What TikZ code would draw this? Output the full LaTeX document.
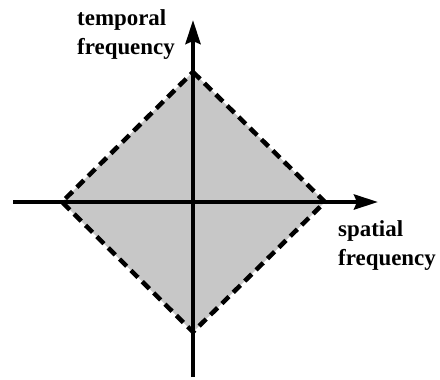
\documentclass[tikz,border=0pt]{standalone}
\usepackage{fontspec}
\setmainfont{Liberation Serif}
\usepackage{tikz}
\usetikzlibrary{positioning, arrows.meta}
\definecolor{stipple}{gray}{0.78}

\begin{document}
\begin{tikzpicture}[x=1bp, y=-1bp,
    axis/.style={line width=4bp, -{Stealth[length=24bp, width=15bp, inset=3bp]}},
    border/.style={line width=4.5bp, dash pattern=on 10bp off 6bp, fill=stipple},
    axislabel/.style={font=\bfseries\fontsize{23}{29}\selectfont, align=left, inner sep=0pt}]
  \useasboundingbox (0,0) rectangle (440,379);
  % diamond of passed frequencies
  \coordinate (top) at (193,72);
  \coordinate (right) at (325,202);
  \coordinate (bottom) at (193,332);
  \coordinate (left) at (62,202);
  \draw[border] (top) -- (right) -- (bottom) -- (left) -- cycle;
  % axes
  \coordinate (xstart) at (13,202);
  \coordinate (xend) at (378,202);
  \coordinate (ystart) at (193,377);
  \coordinate (yend) at (193,20);
  \draw[axis] (xstart) -- (xend);
  \draw[axis] (ystart) -- (yend);
  % labels
  \node[axislabel, anchor=base west] (tlabel) at (77,54) {temporal\\frequency};
  \node[axislabel, anchor=base west] (slabel) at (338,265) {spatial\\frequency};
\end{tikzpicture}
\end{document}
